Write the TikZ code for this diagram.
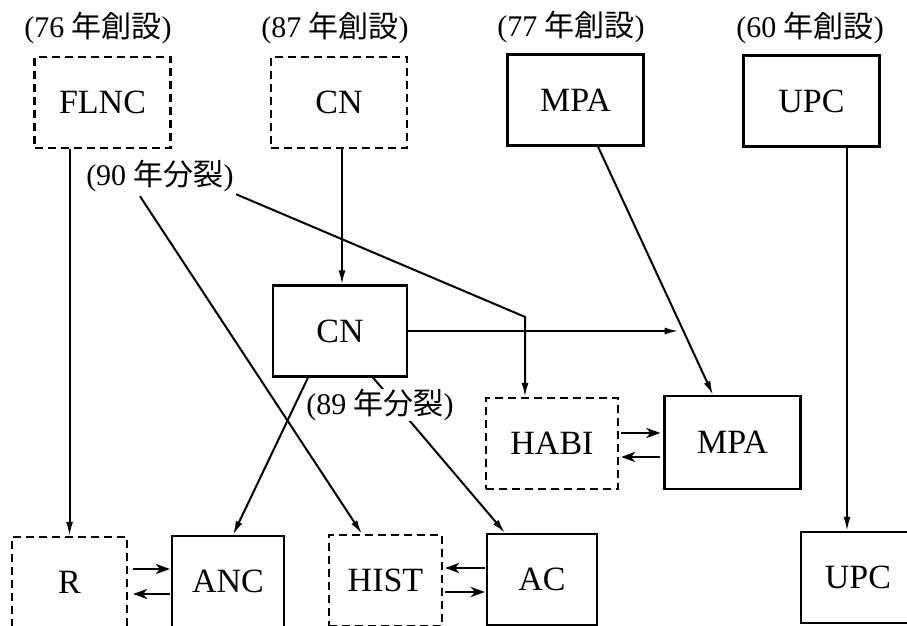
\documentclass[tikz,border=0pt]{standalone}
\usepackage{fontspec}
\setmainfont{Liberation Serif}
\newfontfamily\jp{Noto Sans CJK JP}
\usetikzlibrary{arrows.meta, calc}

\begin{document}
\begin{tikzpicture}[
  x=0.5pt, y=-0.5pt,
  box/.style={draw, rectangle, line width=1.1pt, minimum width=68pt, minimum height=45.5pt,
              inner sep=0pt, font=\fontsize{17}{20}\selectfont},
  dbox/.style={box, dash pattern=on 4pt off 2.5pt},
  lbl/.style={inner sep=1pt, font=\fontsize{15}{18}\selectfont},
  arr/.style={-{Latex[length=7pt,width=3.5pt]}, line width=1pt},
  swap/.style={-{Stealth[length=7pt,width=5pt,inset=2pt]}, line width=1.3pt}
]
  \useasboundingbox (0,0) rectangle (907,626);
  \clip (0,0) rectangle (907,626);

  \node[lbl] (yr76) at (98,28) {(76 {\jp 年創設})};
  \node[lbl] (yr87) at (335,28) {(87 {\jp 年創設})};
  \node[lbl] (yr77) at (571,27) {(77 {\jp 年創設})};
  \node[lbl] (yr60) at (810,28) {(60 {\jp 年創設})};

  \node[dbox] (flnc) at (102.5,102.5) {FLNC};
  \node[dbox] (cnA) at (339,102.5) {CN};
  \node[box] (mpaA) at (575.5,100) {MPA};
  \node[box] (upcA) at (811.5,101) {UPC};
  \node[box, minimum width=67pt] (cnB) at (340,331) {CN};
  \node[dbox, minimum width=66pt] (habi) at (552,443.5) {HABI};
  \node[box, minimum height=46.5pt] (mpaB) at (732.5,442.5) {MPA};
  \node[dbox, minimum width=57.5pt] (r) at (69.5,582.5) {R};
  \node[box, minimum width=56pt] (anc) at (228,581.5) {ANC};
  \node[dbox, minimum width=56.5pt] (hist) at (385.5,580.5) {HIST};
  \node[box, minimum width=55pt] (ac) at (542,579.5) {AC};
  \node[box, minimum width=57pt] (upcB) at (858,577.5) {UPC};

  \node[lbl] (lab90) at (160,176) {(90 {\jp 年分裂})};

  \coordinate (mpaT) at ($(mpaA.south)+(22.5,0)$);
  \coordinate (mpaH) at ($(mpaB.north)+(-19.5,0)$);
  \coordinate (join) at ($(mpaT)!0.735!(mpaH)$);
  \coordinate (upcT) at ($(upcA.south)+(35.5,0)$);
  \coordinate (habiT) at ($(habi.north)+(-27,0)$);

  \draw[arr] (flnc.south -| r.north) -- (r.north);
  \draw[arr] ($(cnA.south)+(3,0)$) -- ($(cnB.north)+(2,0)$);
  \draw[arr] (mpaT) -- (mpaH);
  \draw[arr, shorten >=2pt] (cnB.east) -- (cnB.east -| join);
  \draw[arr] (upcT) -- (upcT |- upcB.north);
  \draw[arr] ($(lab90.south)+(-20,2)$) -- ($(hist.north)+(-23.5,0)$);
  \draw[arr] (lab90.south east) -- ($(habiT)+(0,-80)$) -- (habiT);
  \draw[arr] ($(cnB.south)+(-32,0)$) -- ($(anc.north)+(5,0)$);
  \draw[arr] ($(cnB.south)+(33,0)$) -- ($(ac.north)+(-37,0)$);

  \node[lbl, fill=white, inner sep=0pt] (lab89) at (380,405) {(89 {\jp 年分裂})};

  \draw[swap] ($(r.east)+(5,-13.5)$) -- ($(anc.west)+(-1,-12.5)$);
  \draw[swap] ($(anc.west)+(-1,12.5)$) -- ($(r.east)+(5,11.5)$);
  \draw[swap] ($(ac.west)+(-1,-11.5)$) -- ($(hist.east)+(2,-12.5)$);
  \draw[swap] ($(hist.east)+(2,11.5)$) -- ($(ac.west)+(-1,12.5)$);
  \draw[swap] ($(habi.east)+(2,-10.5)$) -- ($(mpaB.west)+(-3,-9.5)$);
  \draw[swap] ($(mpaB.west)+(-3,14.5)$) -- ($(habi.east)+(2,13.5)$);
\end{tikzpicture}
\end{document}
